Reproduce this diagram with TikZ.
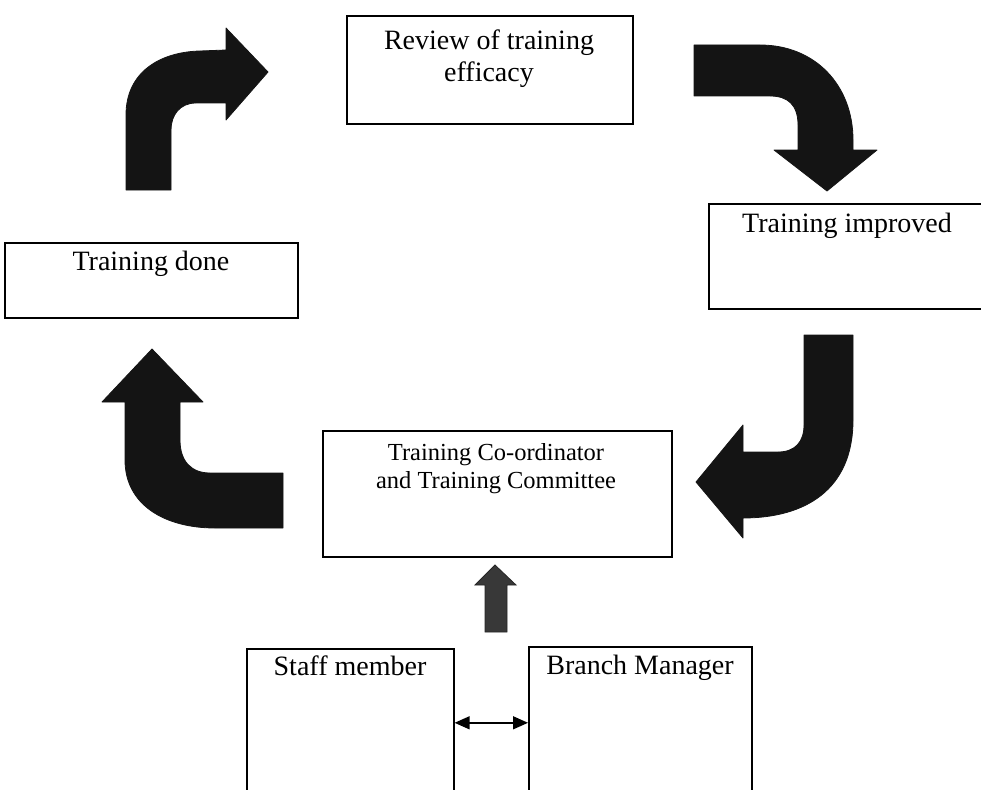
\documentclass[tikz,border=0pt]{standalone}
\usepackage{fontspec}
\setmainfont{Liberation Serif}
\usetikzlibrary{arrows.meta}
\begin{document}
\begin{tikzpicture}[x=1pt,y=-1pt,
  box/.style={draw=black, line width=1.6pt, inner sep=0pt, anchor=north west},
  lbl/.style={font=\fontsize{28}{32}\selectfont, align=center, inner sep=0pt, text height=0.7em, text depth=0.25em},
  lblml/.style={font=\fontsize{28}{32}\selectfont, align=center, inner sep=0pt},
  lblsm/.style={font=\fontsize{24.5}{28}\selectfont, align=center, inner sep=0pt},
  blk/.style={fill=black!92, draw=black!92, line width=0.8pt, line join=round},
  blkup/.style={fill=black!78, draw=black!85, line width=0.8pt, line join=miter},
  link/.style={line width=1.4pt, {Triangle[length=15pt,width=13pt]}-{Triangle[length=15pt,width=13pt]}},
]
\useasboundingbox (0,0) rectangle (981,789);
\begin{scope}
\clip (0,0) rectangle (981,789);
% boxes
\node[box, minimum width=286pt, minimum height=108pt] (review) at (346,15) {};
\node[lblml] (reviewtxt) at (489,59) {Review of training\\efficacy};

\node[box, minimum width=278pt, minimum height=105pt] (improved) at (708,203) {};
\node[lbl] (improvedtxt) at (847,230) {Training improved};

\node[box, minimum width=293pt, minimum height=75pt] (done) at (4,242) {};
\node[lbl] (donetxt) at (151,268) {Training done};

\node[box, minimum width=349pt, minimum height=126pt] (coord) at (322,430) {};
\node[lblsm] (coordtxt) at (496,469) {Training Co-ordinator\\and Training Committee};

\node[box, minimum width=207pt, minimum height=148pt] (staff) at (246,648) {};
\node[lbl] (stafftxt) at (350,673) {Staff member};

\node[box, minimum width=223pt, minimum height=152pt] (branch) at (528,646) {};
\node[lbl] (branchtxt) at (640,672) {Branch Manager};

% double arrow between staff and branch
\draw[link] (staff.east) -- (branch.west);

% up block arrow
\path[blkup] (485,632) -- (485,585) -- (475,585) -- (495,565) -- (516,585)
  -- (507,585) -- (507,632) -- cycle;

% curved arrow A (up then right)
\path[blk] (126,190) -- (126,115) .. controls (126,72) and (160,52) .. (200,51)
  -- (226,50) -- (226,28) -- (268,72) -- (226,120) -- (226,103) -- (196,103)
  .. controls (180,103) and (171,115) .. (171,130) -- (171,190) -- cycle;

% curved arrow B (right then down)
\path[blk] (694,45) -- (760,45) .. controls (815,45) and (853,85) .. (853,140)
  -- (853,150) -- (877,150) -- (827,191) -- (774,150) -- (798,150) -- (798,125)
  .. controls (798,105) and (788,96) .. (770,96) -- (694,96) -- cycle;

% curved arrow C (down then left)
\path[blk] (804,335) -- (853,335) -- (853,420) .. controls (853,490) and (805,518) .. (743,518)
  -- (743,538) -- (696,482) -- (743,425) -- (743,452) -- (778,452)
  .. controls (795,452) and (804,442) .. (804,425) -- cycle;

% curved arrow D (left then up)
\path[blk] (283,473) -- (283,528) -- (215,528) .. controls (165,528) and (125,505) .. (125,460)
  -- (125,402) -- (102,402) -- (152,349) -- (203,402) -- (180,402) -- (180,440)
  .. controls (180,462) and (192,473) .. (210,473) -- cycle;
\end{scope}
\end{tikzpicture}
\end{document}
